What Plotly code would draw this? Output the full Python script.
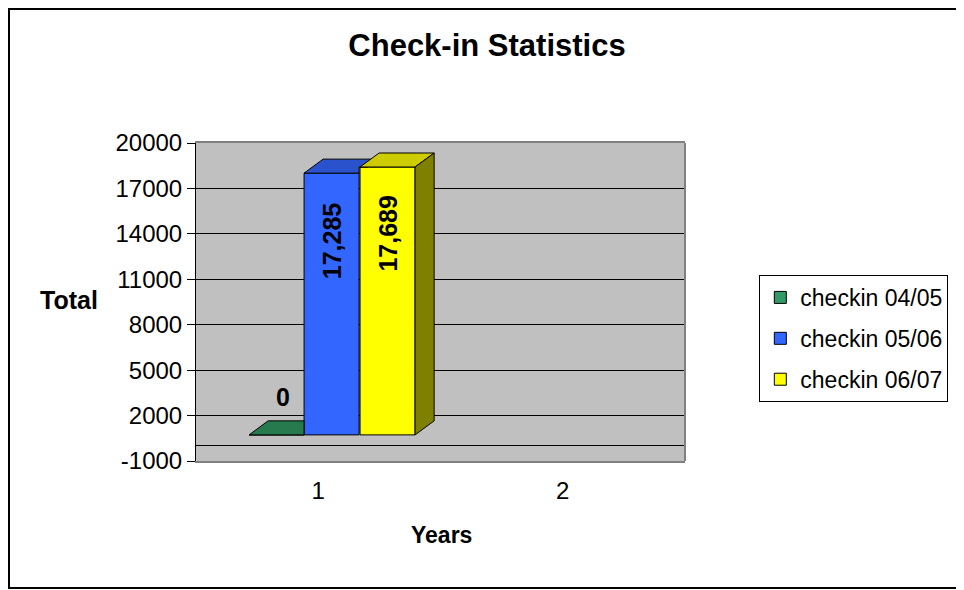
import plotly.graph_objects as go

# ---------------- data ----------------
categories = ["1", "2"]
series_names = ["checkin 04/05", "checkin 05/06", "checkin 06/07"]
checkin_0405 = [0, None]
checkin_0506 = [17285, None]
checkin_0607 = [17689, None]
y_ticks = [-1000, 2000, 5000, 8000, 11000, 14000, 17000, 20000]

series_values = [checkin_0405, checkin_0506, checkin_0607]

# ---------------- style ----------------
FONT = "Liberation Sans, Arial, sans-serif"
front_colors = ["#339966", "#3366FF", "#FFFF00"]
top_colors = ["#267A4D", "#2A52CC", "#CCCC00"]
side_colors = ["#1A5C3A", "#1F3F9E", "#808000"]

BAR_W = 0.225
OFFSETS = [-0.283, -0.058, 0.171]
DX = 0.078      # 3D depth, x units
DY = 925        # 3D depth, y units
LIFT = 725      # bars sit slightly above floor line

# page body has an 8px margin; size the figure so it fits the window
PAGE_OFF = 8
FIG_W, FIG_H = 964 - PAGE_OFF, 590 - PAGE_OFF
PLOT_L, PLOT_T, PLOT_W, PLOT_H = 196 - PAGE_OFF, 143 - PAGE_OFF, 489, 318

xpos = list(range(1, len(categories) + 1))

fig = go.Figure()

# front faces as real bars
for i, (name, vals) in enumerate(zip(series_names, series_values)):
    fig.add_trace(go.Bar(
        x=xpos, y=vals, base=LIFT, width=BAR_W, offset=OFFSETS[i],
        name=name, legendgroup=str(i),
        marker=dict(color=front_colors[i], line=dict(color="black", width=1)),
        hoverinfo="skip",
    ))

# 3D top / side faces computed from the data
n = len(series_values)
for i, vals in enumerate(series_values):
    nxt = series_values[i + 1] if i + 1 < n else None
    for j, v in enumerate(vals):
        if v is None:
            continue
        xL = xpos[j] + OFFSETS[i]
        xR = xL + BAR_W
        t = LIFT + v
        t_next = None
        if nxt is not None and nxt[j] is not None:
            t_next = LIFT + nxt[j]
        if t_next is None:
            pts = [(xL, t), (xR, t), (xR + DX, t + DY), (xL + DX, t + DY)]
        else:
            tc = min(max(t_next, t), t + DY)
            if tc >= t + DY:
                pts = [(xL, t), (xR, t), (xR, t + DY), (xL + DX, t + DY)]
            else:
                frac = (tc - t) / DY
                pts = [(xL, t), (xR, t), (xR, tc), (xR + DX * frac, tc),
                       (xR + DX, t + DY), (xL + DX, t + DY)]
        px = [p[0] for p in pts] + [pts[0][0]]
        py = [p[1] for p in pts] + [pts[0][1]]
        fig.add_trace(go.Scatter(
            x=px, y=py, mode="lines", fill="toself",
            fillcolor=top_colors[i], line=dict(color="black", width=1),
            showlegend=False, hoverinfo="skip",
        ))
        if t_next is None:
            sp = [(xR, LIFT), (xR, t), (xR + DX, t + DY), (xR + DX, LIFT + DY), (xR, LIFT)]
            fig.add_trace(go.Scatter(
                x=[p[0] for p in sp], y=[p[1] for p in sp], mode="lines",
                fill="toself", fillcolor=side_colors[i],
                line=dict(color="black", width=1),
                showlegend=False, hoverinfo="skip",
            ))

# value labels
annotations = []
for i, vals in enumerate(series_values):
    v = vals[0]
    if v is None:
        continue
    xc = xpos[0] + OFFSETS[i] + BAR_W / 2
    if v == 0:
        annotations.append(dict(
            x=xc, y=LIFT + v, xref="x", yref="y", text=f"{v:,}",
            showarrow=False, yanchor="bottom", xanchor="center",
            xshift=6, yshift=22,
            font=dict(family=FONT, size=25, color="black", weight="bold"),
        ))
    else:
        annotations.append(dict(
            x=xc, y=LIFT + v, xref="x", yref="y", text=f"{v:,}",
            showarrow=False, yanchor="top", xanchor="center", textangle=-90,
            yshift=-27,
            font=dict(family=FONT, size=25, color="black", weight="bold"),
        ))

# y axis title (horizontal)
annotations.append(dict(
    x=-0.26, y=0.506, xref="paper", yref="paper", text="Total",
    showarrow=False, xanchor="center", yanchor="middle",
    font=dict(family=FONT, size=25, color="black", weight="bold"),
))
# x axis title
annotations.append(dict(
    x=0.503, y=-0.233, xref="paper", yref="paper", text="Years",
    showarrow=False, xanchor="center", yanchor="middle",
    font=dict(family=FONT, size=23, color="black", weight="bold"),
))

shapes = [
    # outer chart border
    dict(type="rect", xref="paper", yref="paper",
         x0=(1 - PLOT_L) / PLOT_W, x1=1.62,
         y0=-(FIG_H - 2 - PLOT_T - PLOT_H) / PLOT_H, y1=1 + (PLOT_T - 1) / PLOT_H,
         line=dict(color="black", width=2), layer="below"),
    # right edge of plot area
    dict(type="line", xref="paper", yref="paper", x0=1, x1=1, y0=0, y1=1,
         line=dict(color="#808080", width=2)),
]

fig.update_layout(
    width=FIG_W, height=FIG_H,
    margin=dict(l=PLOT_L, r=FIG_W - PLOT_L - PLOT_W,
                t=PLOT_T, b=FIG_H - PLOT_T - PLOT_H),
    paper_bgcolor="white", plot_bgcolor="#C0C0C0",
    barmode="overlay",
    font=dict(family=FONT, size=22, color="black"),
    title=dict(text="Check-in Statistics", x=(487 - PAGE_OFF) / FIG_W, xanchor="center",
               y=1 - (45 - PAGE_OFF) / FIG_H, yanchor="middle",
               font=dict(family=FONT, size=31, color="black", weight="bold")),
    showlegend=True,
    legend=dict(x=1.152, xanchor="left", y=0.585, yanchor="top",
                bordercolor="black", borderwidth=1, bgcolor="white",
                font=dict(family=FONT, size=23, color="black"),
                traceorder="grouped", tracegroupgap=8),
    annotations=annotations,
    shapes=shapes,
)

fig.update_xaxes(
    range=[0.5, 2.5], tickvals=xpos, ticktext=categories,
    showgrid=False, zeroline=False, ticks="", ticklabelstandoff=7,
    showline=True, linecolor="#808080", linewidth=2, mirror=True,
    tickfont=dict(family=FONT, size=24, color="black"), automargin=False,
)
fig.update_yaxes(
    range=[-1000, 20000], tickvals=y_ticks, ticktext=[str(v) for v in y_ticks],
    showgrid=True, gridcolor="black", gridwidth=1,
    zeroline=True, zerolinecolor="black", zerolinewidth=1,
    ticks="outside", ticklen=8, tickcolor="black",
    showline=True, linecolor="black", linewidth=1,
    tickfont=dict(family=FONT, size=24, color="black"), automargin=False,
)

fig.write_html("out.html")
